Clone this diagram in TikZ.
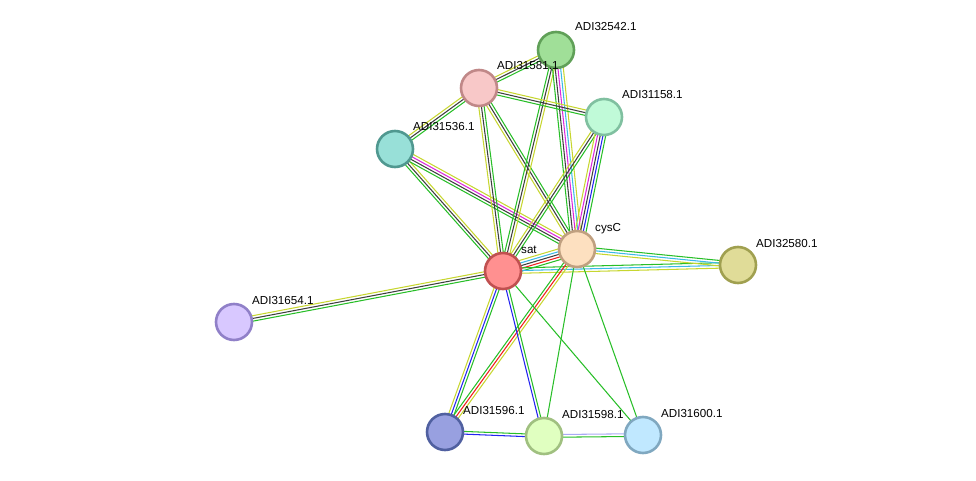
\documentclass[tikz,border=0pt]{standalone}
\usepackage{fontspec}
\setmainfont{Liberation Sans}
\usetikzlibrary{calc,backgrounds}

% evidence colours
\definecolor{tmine}{RGB}{199,214,48}
\definecolor{nbhd}{RGB}{40,190,40}
\definecolor{coexp}{RGB}{62,62,62}
\definecolor{dbase}{RGB}{60,185,230}
\definecolor{expt}{RGB}{220,40,220}
\definecolor{coocc}{RGB}{35,35,240}
\definecolor{fusion}{RGB}{240,30,30}
\definecolor{homol}{RGB}{170,170,245}

\tikzset{
  prot/.style={circle,minimum size=36pt,inner sep=0pt,line width=2.6pt},
  lbl/.style={anchor=base west,inner sep=0pt,font=\fontsize{11.6}{13}\selectfont},
  strline/.style={line width=1.05pt}
}

% one bundle of parallel lines between two proteins
\newcommand{\stredge}[3]{%
  \foreach \col [count=\k] in {#3} {\xdef\nlines{\k}}%
  \foreach \col [count=\k] in {#3} {%
    \pgfmathsetmacro{\off}{(\k-(\nlines+1)/2)*2.7}%
    \draw[strline,\col] ($(#1)!\off pt!90:(#2)$) -- ($(#2)!\off pt!-90:(#1)$);
  }}

\begin{document}
\begin{tikzpicture}[x=1pt,y=-1pt]
\useasboundingbox (0,0) rectangle (976,481);

% proteins
\node[prot,fill={rgb,255:red,160;green,223;blue,152},draw={rgb,255:red,96;green,160;blue,88}] (p32542) at (556,50) {};
\node[prot,fill={rgb,255:red,248;green,200;blue,200},draw={rgb,255:red,192;green,136;blue,136}] (p31581) at (479,88) {};
\node[prot,fill={rgb,255:red,192;green,250;blue,216},draw={rgb,255:red,128;green,192;blue,160}] (p31158) at (604,117) {};
\node[prot,fill={rgb,255:red,152;green,224;blue,216},draw={rgb,255:red,80;green,152;blue,144}] (p31536) at (395,149) {};
\node[prot,fill={rgb,255:red,253;green,224;blue,192},draw={rgb,255:red,192;green,160;blue,128}] (cysC) at (577,249) {};
\node[prot,fill={rgb,255:red,255;green,144;blue,144},draw={rgb,255:red,192;green,80;blue,80}] (sat) at (503,271) {};
\node[prot,fill={rgb,255:red,224;green,220;blue,152},draw={rgb,255:red,160;green,160;blue,80}] (p32580) at (738,265) {};
\node[prot,fill={rgb,255:red,216;green,200;blue,255},draw={rgb,255:red,144;green,128;blue,200}] (p31654) at (234,322) {};
\node[prot,fill={rgb,255:red,152;green,160;blue,224},draw={rgb,255:red,80;green,96;blue,160}] (p31596) at (445,432) {};
\node[prot,fill={rgb,255:red,224;green,255;blue,192},draw={rgb,255:red,160;green,192;blue,128}] (p31598) at (544,436) {};
\node[prot,fill={rgb,255:red,192;green,232;blue,255},draw={rgb,255:red,128;green,168;blue,192}] (p31600) at (643,435) {};

% labels
\node[lbl] (l32542) at ([shift={(19,-19)}]p32542.center) {ADI32542.1};
\node[lbl] (l31581) at ([shift={(18,-18)}]p31581.center) {ADI31581.1};
\node[lbl] (l31158) at ([shift={(18,-18)}]p31158.center) {ADI31158.1};
\node[lbl] (l31536) at ([shift={(18,-18)}]p31536.center) {ADI31536.1};
\node[lbl] (lcysC) at ([shift={(18,-18)}]cysC.center) {cysC};
\node[lbl] (lsat) at ([shift={(18,-18)}]sat.center) {sat};
\node[lbl] (l32580) at ([shift={(18,-18)}]p32580.center) {ADI32580.1};
\node[lbl] (l31654) at ([shift={(18,-18)}]p31654.center) {ADI31654.1};
\node[lbl] (l31596) at ([shift={(18,-18)}]p31596.center) {ADI31596.1};
\node[lbl] (l31598) at ([shift={(18,-18)}]p31598.center) {ADI31598.1};
\node[lbl] (l31600) at ([shift={(18,-18)}]p31600.center) {ADI31600.1};

% interactions
\begin{pgfonlayer}{background}
\stredge{sat}{p31654}{tmine,coexp,nbhd}
\stredge{sat}{cysC}{nbhd,fusion,coexp,dbase,tmine}
\stredge{sat}{p32580}{tmine,dbase,nbhd}
\stredge{cysC}{p32580}{tmine,dbase,nbhd}
\stredge{sat}{p31536}{tmine,coexp,nbhd}
\stredge{cysC}{p31536}{tmine,expt,coexp,nbhd}
\stredge{sat}{p31581}{nbhd,coexp,tmine}
\stredge{cysC}{p31581}{nbhd,coexp,tmine}
\stredge{sat}{p32542}{tmine,coexp,nbhd}
\stredge{cysC}{p32542}{tmine,dbase,expt,coexp,nbhd}
\stredge{sat}{p31158}{nbhd,coexp,tmine}
\stredge{cysC}{p31158}{nbhd,coocc,coexp,expt,tmine}
\stredge{p31581}{p32542}{nbhd,coexp,tmine}
\stredge{p31581}{p31158}{nbhd,coexp,tmine}
\stredge{p31581}{p31536}{tmine,coexp,nbhd}
\stredge{sat}{p31596}{tmine,coocc,nbhd}
\stredge{cysC}{p31596}{nbhd,fusion,tmine}
\stredge{sat}{p31598}{coocc,nbhd}
\stredge{sat}{p31600}{nbhd}
\stredge{cysC}{p31598}{nbhd}
\stredge{cysC}{p31600}{nbhd}
\stredge{p31596}{p31598}{coocc,nbhd}
\stredge{p31598}{p31600}{nbhd,homol}
\end{pgfonlayer}
\end{tikzpicture}
\end{document}
